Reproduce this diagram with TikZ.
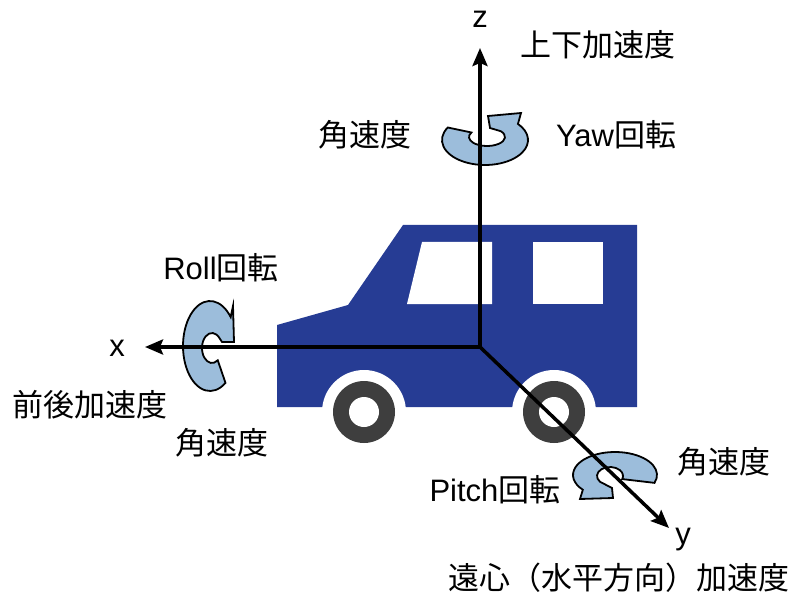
\documentclass[tikz,border=0pt]{standalone}
\usepackage{fontspec}
\setmainfont{Liberation Sans}
\newfontfamily\jp{Noto Sans CJK JP}
\usetikzlibrary{calc,arrows.meta,positioning}
\definecolor{azulauto}{RGB}{38,60,148}
\definecolor{neumatico}{RGB}{62,62,62}
\definecolor{celeste}{RGB}{156,189,219}
\tikzset{
    eje/.style={line width=3.5pt,-{Stealth[length=18pt,width=15pt,inset=3pt]}},
    giro/.style={draw=black,line width=1.8pt,fill=celeste,line join=miter},
    texto/.style={inner sep=0pt,font=\fontsize{31}{36}\selectfont},
    hueco/.style={fill=white},
}
\begin{document}
\begin{tikzpicture}[x=1pt,y=1pt]
\useasboundingbox (0,0) rectangle (799,595);

% carroceria
\fill[azulauto] (277,188) -- (637,188) -- (637,370) -- (403,370) -- (348,290) -- (277,270) -- cycle;
\fill[hueco] (422,353) -- (492,353) -- (492,291) -- (407,291) -- cycle;
\fill[hueco] (533,291) rectangle (603,353);

% ruedas
\foreach \cx in {364,554} {
    \fill[hueco] (\cx,183) circle (42);
    \fill[neumatico] (\cx,183) circle (31);
    \fill[hueco] (\cx,183) circle (15);
}

% flechas de giro: yaw
\draw[giro] ($(485,455)+(150:43 and 25)$) arc[start angle=150,end angle=400,x radius=43,y radius=25]
    -- (521,482) -- (488,479) -- (490,467) -- ($(487,458)+(40:18 and 9)$)
    arc[start angle=40,end angle=-210,x radius=18,y radius=9] -- cycle;
% roll
\draw[giro] ($(210,249)+(-55:27 and 45)$) arc[start angle=-55,end angle=-320,x radius=27,y radius=45]
    -- (233,289) -- (234,253) -- (222,253) -- ($(212,247)+(-320:10 and 15)$)
    arc[start angle=-320,end angle=-55,x radius=10,y radius=15] -- cycle;
% pitch
\draw[giro] ($(615,120)+(-20:42 and 23)$) arc[start angle=-20,end angle=220,x radius=42,y radius=23]
    -- (580,96) -- (613,97) -- (612,107) -- ($(610,119)+(220:13 and 9)$)
    arc[start angle=220,end angle=-20,x radius=13,y radius=9] -- cycle;

% ejes
\coordinate (O) at (480,248);
\coordinate (zfin) at (480,547);
\coordinate (xfin) at (145,248);
\coordinate (yfin) at (669,67);
\draw[eje] (O) -- (zfin);
\draw[eje] (O) -- (xfin);
\draw[eje] (O) -- (yfin);

\node[texto] (z) at (480,576) {z};
\node[texto] (x) at (117,247) {x};
\node[texto] (y) at (683,55) {y};

\node[texto] (acz)   at (598,550) {\jp 上下加速度};
\node[texto] (wz)    at (365,460) {\jp 角速度};
\node[texto] (yaw)   at (616,460) {Yaw{\jp 回転}};
\node[texto] (roll)  at (221,327) {Roll{\jp 回転}};
\node[texto] (acx)   at (90,190)  {\jp 前後加速度};
\node[texto] (wx)    at (222,152) {\jp 角速度};
\node[texto] (wy)    at (724,133) {\jp 角速度};
\node[texto] (pitch) at (495,105) {Pitch{\jp 回転}};
\node[texto] (acy)   at (619,17)  {\jp 遠心（水平方向）加速度};
\end{tikzpicture}
\end{document}
